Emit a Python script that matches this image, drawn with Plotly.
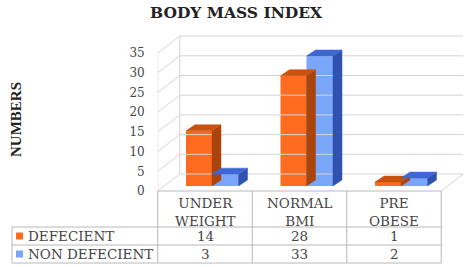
import plotly.graph_objects as go

# ---------------- data ----------------
categories = ["UNDER<br>WEIGHT", "NORMAL<br>BMI", "PRE<br>OBESE"]
series_names = ["DEFECIENT", "NON DEFECIENT"]
defecient = [14, 28, 1]
non_defecient = [3, 33, 2]
y_ticks = [0, 5, 10, 15, 20, 25, 30, 35]
chart_title = "BODY MASS INDEX"
y_title = "NUMBERS"

# ---------------- geometry / style ----------------
W, H = 472, 267
PX_PER_UNIT = 3.94
COL_PX = 94.5
X0_PX = 205.0
FLOOR_PX = 191.0

def dxu(p):
    return p / COL_PX

def dyu(p):
    return p / PX_PER_UNIT

def py(p):
    return 1 - p / H

def pxp(p):
    return p / W

x_lo = -0.5
x_hi = (W - X0_PX) / COL_PX
y_hi = FLOOR_PX / PX_PER_UNIT
y_lo = (FLOOR_PX - H) / PX_PER_UNIT

DX, DY = dxu(22), dyu(17)          # wall depth
BASE = dyu(5)                       # bar base (mid depth)
BDX, BDY = dxu(9), dyu(6)           # bar depth

SERIF = "DejaVu Serif"
TXT = "#454545"
GRID = "#d4d4d4"
TABLE = "#b8b8b8"
TFS = 13.5

series = [
    dict(name=series_names[0], vals=defecient, off=dxu(186 - X0_PX), w=dxu(26),
         front="#FF6C1F", top="#C9520F", side="#A8440C"),
    dict(name=series_names[1], vals=non_defecient, off=dxu(212 - X0_PX), w=dxu(26.5),
         front="#7AA6FA", top="#3E66D6", side="#2F52B0"),
]

fig = go.Figure()

# ----- 3D walls / gridlines -----
n_cat = len(categories)
right = n_cat - 0.5
gx, gy = [], []
top_v = y_ticks[-1]
for v in y_ticks:
    gx += [x_lo + DX, right + DX, None, x_lo, x_lo + DX, None]
    gy += [v + DY, v + DY, None, v, v + DY, None]
gx += [x_lo, x_lo, None, x_lo + DX, x_lo + DX, None, right, right + DX, None]
gy += [0, top_v, None, DY, top_v + DY, None, 0, DY, None]
fig.add_trace(go.Scatter(x=gx, y=gy, mode="lines",
                         line=dict(color=GRID, width=1), hoverinfo="skip"))

# ----- bars -----
for s in series:
    xs = list(range(n_cat))
    fig.add_trace(go.Bar(x=xs, y=s["vals"], base=BASE, offset=s["off"], width=s["w"],
                         marker=dict(color=s["front"], line=dict(width=0)),
                         name=s["name"]))
    sx, sy, tx, ty = [], [], [], []
    for i, v in enumerate(s["vals"]):
        x0 = i + s["off"]
        x1 = x0 + s["w"]
        t = BASE + v
        b = BASE
        sx += [x1, x1, x1 + BDX, x1 + BDX, x1, None]
        sy += [b, t, t + BDY, b + BDY, b, None]
        tx += [x0, x1, x1 + BDX, x0 + BDX, x0, None]
        ty += [t, t, t + BDY, t + BDY, t, None]
    fig.add_trace(go.Scatter(x=sx, y=sy, mode="lines", fill="toself",
                             fillcolor=s["side"], line=dict(width=0.5, color=s["side"]),
                             hoverinfo="skip"))
    fig.add_trace(go.Scatter(x=tx, y=ty, mode="lines", fill="toself",
                             fillcolor=s["top"], line=dict(width=0.5, color=s["top"]),
                             hoverinfo="skip"))

# ----- data table -----
shapes = []
col_edges = [pxp(X0_PX + (k - 0.5) * COL_PX) for k in range(n_cat + 1)]
rows_px = [227, 245, 263]
left_px = 12
for r in rows_px:
    shapes.append(dict(type="line", xref="paper", yref="paper",
                       x0=pxp(left_px), x1=col_edges[-1], y0=py(r), y1=py(r),
                       line=dict(color=TABLE, width=1)))
shapes.append(dict(type="line", xref="paper", yref="paper",
                   x0=col_edges[0], x1=col_edges[-1], y0=py(FLOOR_PX), y1=py(FLOOR_PX),
                   line=dict(color=TABLE, width=1)))
shapes.append(dict(type="line", xref="paper", yref="paper",
                   x0=pxp(left_px), x1=pxp(left_px), y0=py(227), y1=py(263),
                   line=dict(color=TABLE, width=1)))
for ce in col_edges:
    shapes.append(dict(type="line", xref="paper", yref="paper",
                       x0=ce, x1=ce, y0=py(FLOOR_PX), y1=py(263),
                       line=dict(color=TABLE, width=1)))
# legend keys
for s, (yc) in zip(series, [236, 254]):
    shapes.append(dict(type="rect", xref="paper", yref="paper",
                       x0=pxp(16), x1=pxp(23), y0=py(yc - 3.5), y1=py(yc + 3.5),
                       fillcolor=s["front"], line=dict(width=0)))

ann = []
for i, c in enumerate(categories):
    ann.append(dict(x=i, xref="x", y=py(211.5), yref="paper", text=c, showarrow=False,
                    xanchor="center", yanchor="middle",
                    font=dict(family=SERIF, size=TFS, color=TXT), align="center"))
for s, yc in zip(series, [236, 254]):
    ann.append(dict(x=pxp(26), xref="paper", y=py(yc), yref="paper", text=s["name"],
                    showarrow=False, xanchor="left", yanchor="middle",
                    font=dict(family=SERIF, size=TFS, color=TXT)))
    for i, v in enumerate(s["vals"]):
        ann.append(dict(x=i, xref="x", y=py(yc), yref="paper", text=str(v),
                        showarrow=False, xanchor="center", yanchor="middle",
                        font=dict(family=SERIF, size=TFS, color=TXT)))

ann.append(dict(x=pxp(236), xref="paper", y=py(12), yref="paper", text="<b>" + chart_title + "</b>",
                showarrow=False, xanchor="center", yanchor="middle",
                font=dict(family=SERIF, size=15.5, color="#222222")))
ann.append(dict(x=pxp(16), xref="paper", y=py(120), yref="paper", text="<b>" + y_title + "</b>",
                showarrow=False, textangle=-90, xanchor="center", yanchor="middle",
                font=dict(family="Liberation Serif", size=15, color="#222222")))

fig.update_layout(
    width=W, height=H,
    margin=dict(l=0, r=0, t=0, b=0),
    paper_bgcolor="white", plot_bgcolor="white",
    showlegend=False, barmode="overlay",
    xaxis=dict(domain=[pxp(X0_PX - 0.5 * COL_PX), 1], range=[x_lo, x_hi],
               showgrid=False, zeroline=False, showticklabels=False, showline=False),
    yaxis=dict(domain=[0, 1], range=[y_lo, y_hi], tickvals=y_ticks,
               ticktext=[str(t) for t in y_ticks], ticklabelstandoff=12,
               tickfont=dict(family=SERIF, size=12, color=TXT),
               showgrid=False, zeroline=False, showline=False, ticks=""),
    shapes=shapes, annotations=ann,
)

fig.write_html("out.html")
